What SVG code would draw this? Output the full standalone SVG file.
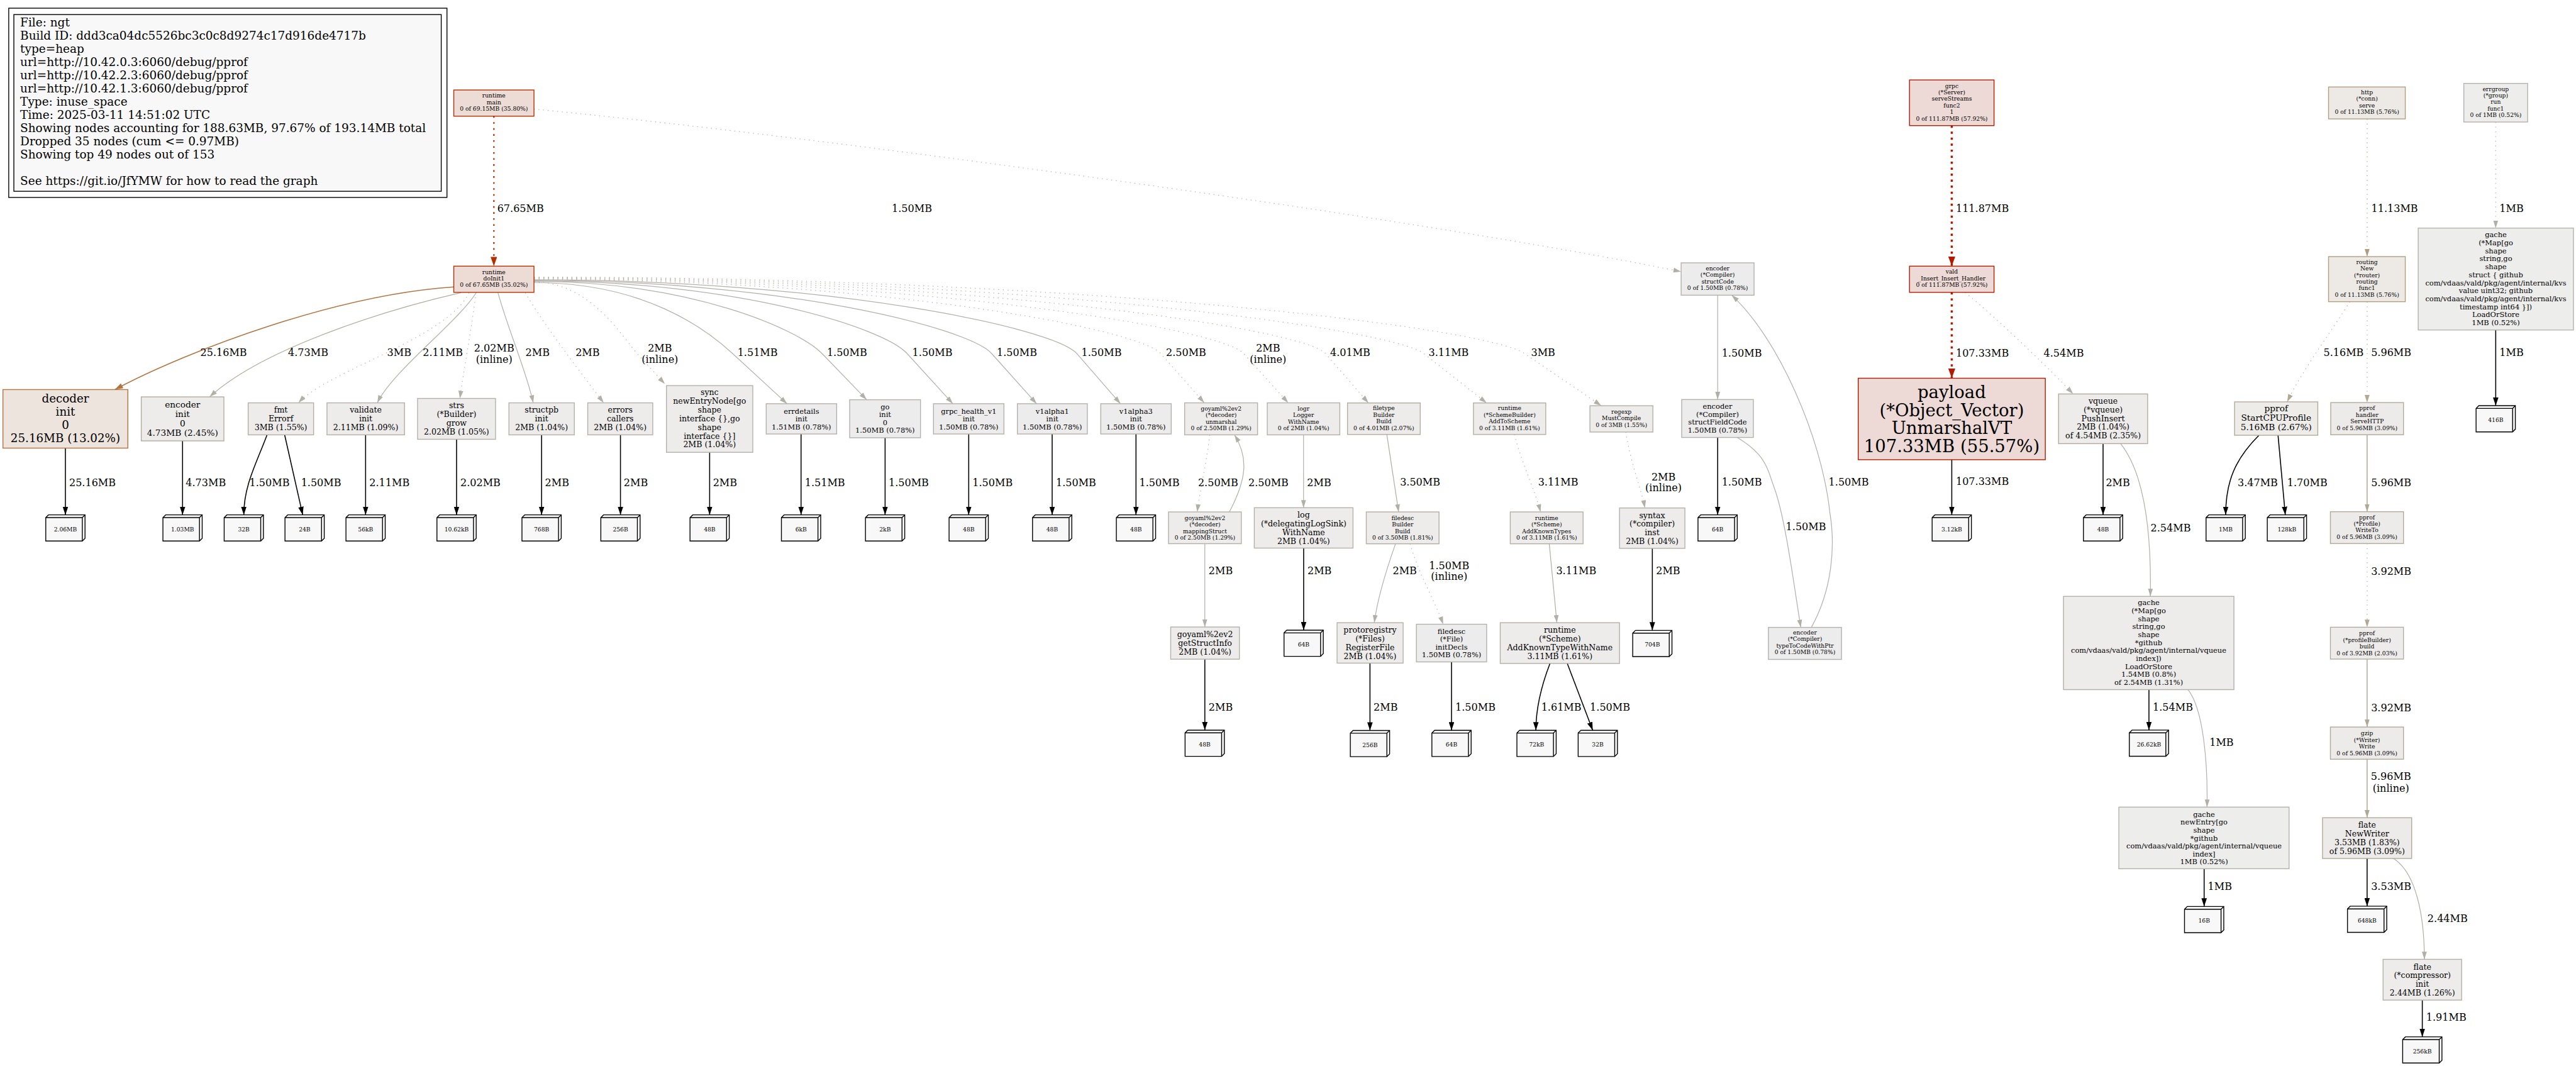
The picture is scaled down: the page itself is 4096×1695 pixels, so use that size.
<svg xmlns="http://www.w3.org/2000/svg" width="4096" height="1695" viewBox="0 0 4096 1695">
<defs>
<style>
text{font-family:"DejaVu Serif","Liberation Serif",serif;fill:#000}
.n text{text-anchor:middle}
.n rect{stroke-width:1.6}
.f8{font-size:10.6px}
.f10{font-size:13.2px}
.f11{font-size:14.5px}
.f12{font-size:15.8px}
.f16{font-size:21.1px}
.f24{font-size:31.7px}
.e path{fill:none;stroke-width:1.4}
.e path.d{stroke-dasharray:1.6 7}
.e path.k{stroke:#000;stroke-width:1.8}
.e text{font-size:18.5px}
.e text.m{text-anchor:middle}
.lf text{font-size:10.6px;text-anchor:middle}
.bxf{fill:#f8f8f8;stroke:#000;stroke-width:1.6}
.bxl{fill:none;stroke:#000;stroke-width:1.6}
</style>
<marker id="ak" viewBox="0 0 15 10" refX="15" refY="5" markerWidth="15" markerHeight="10" markerUnits="userSpaceOnUse" orient="auto"><path d="M0,0L15,5L0,10z" fill="#000"/></marker>
<marker id="ag" viewBox="0 0 14 9" refX="14" refY="4.5" markerWidth="14" markerHeight="9" markerUnits="userSpaceOnUse" orient="auto"><path d="M0,0L14,4.5L0,9z" fill="#b2afa6"/></marker>
<marker id="ar" viewBox="0 0 18 13" refX="18" refY="6.5" markerWidth="18" markerHeight="13" markerUnits="userSpaceOnUse" orient="auto"><path d="M0,0L18,6.5L0,13z" fill="#b21a00"/></marker>
<marker id="ao" viewBox="0 0 17 12" refX="17" refY="6" markerWidth="17" markerHeight="12" markerUnits="userSpaceOnUse" orient="auto"><path d="M0,0L17,6L0,12z" fill="#b23000"/></marker>
<marker id="ab" viewBox="0 0 15 10" refX="15" refY="5" markerWidth="15" markerHeight="10" markerUnits="userSpaceOnUse" orient="auto"><path d="M0,0L15,5L0,10z" fill="#b2733e"/></marker>
<marker id="at" viewBox="0 0 14 9" refX="14" refY="4.5" markerWidth="14" markerHeight="9" markerUnits="userSpaceOnUse" orient="auto"><path d="M0,0L14,4.5L0,9z" fill="#b29c7f"/></marker>
<marker id="at2" viewBox="0 0 14 9" refX="14" refY="4.5" markerWidth="14" markerHeight="9" markerUnits="userSpaceOnUse" orient="auto"><path d="M0,0L14,4.5L0,9z" fill="#b2a896"/></marker>
<g id="bx"><path class="bxf" d="M0,5L5,0L72,0L72,43L67,48L0,48Z"/><path class="bxl" d="M0,5L67,5L67,48M67,5L72,0"/></g>
</defs>
<rect width="4096" height="1695" fill="#fff"/>
<g transform="scale(0.867246)">

<g id="legend">
<rect x="16" y="15" width="803.5" height="347" fill="#fff" stroke="#000" stroke-width="1.6"/>
<rect x="25.4" y="26.7" width="783.6" height="324" fill="#f8f8f8" stroke="#000" stroke-width="1.6"/>
<text font-size="21.3">
<tspan x="37" y="48.5">File: ngt</tspan>
<tspan x="37" y="72.7">Build ID: ddd3ca04dc5526bc3c0c8d9274c17d916de4717b</tspan>
<tspan x="37" y="96.9">type=heap</tspan>
<tspan x="37" y="121.1">url=http://10.42.0.3:6060/debug/pprof</tspan>
<tspan x="37" y="145.3">url=http://10.42.2.3:6060/debug/pprof</tspan>
<tspan x="37" y="169.5">url=http://10.42.1.3:6060/debug/pprof</tspan>
<tspan x="37" y="193.7">Type: inuse_space</tspan>
<tspan x="37" y="217.9">Time: 2025-03-11 14:51:02 UTC</tspan>
<tspan x="37" y="242.1">Showing nodes accounting for 188.63MB, 97.67% of 193.14MB total</tspan>
<tspan x="37" y="266.3">Dropped 35 nodes (cum &lt;= 0.97MB)</tspan>
<tspan x="37" y="290.5">Showing top 49 nodes out of 153</tspan>
<tspan x="37" y="338.9">See https://git.io/JfYMW for how to read the graph</tspan>
</text>
</g>

<g id="edges" class="e">
<g><path d="M905.5,213L905.5,488" stroke="#b23000" style="stroke-width:2.6;stroke-dasharray:3 8" marker-end="url(#ao)"/><text x="911.7" y="389">67.65MB</text></g>
<g><path class="d" d="M979,200C1500,250 2600,400 3082,498" stroke="#b2b0ab" marker-end="url(#ag)"/><text class="m" x="1672" y="389">1.50MB</text></g>
<g><path d="M3578.5,230.3L3578.5,488" stroke="#b21a00" style="stroke-width:4;stroke-dasharray:4 7" marker-end="url(#ar)"/><text x="3586" y="389">111.87MB</text></g>
<g><path d="M3578.5,536L3578.5,693.5" stroke="#b21c00" style="stroke-width:4;stroke-dasharray:4 7" marker-end="url(#ar)"/><text x="3586" y="654">107.33MB</text></g>
<g><path class="d" d="M3603,536C3680,600 3760,680 3801,722" stroke="#b2ab9d" marker-end="url(#ag)"/><text x="3747" y="654">4.54MB</text></g>
<g><path class="k" d="M3578.5,842.8L3578.5,944" marker-end="url(#ak)"/><text x="3586" y="889">107.33MB</text></g>

<g><path d="M832,526C620,540 350,640 210.6,714.3" stroke="#b2733e" style="stroke-width:1.8" marker-end="url(#ab)"/><text class="m" x="410" y="653">25.16MB</text></g>
<g><path d="M845,536.7C700,570 480,640 384.3,727.7" stroke="#b2ab9c" marker-end="url(#ag)"/><text class="m" x="565" y="653">4.73MB</text></g>
<g><path class="d" d="M860,536.7C820,620 600,680 547.3,738.6" stroke="#b2aea4" marker-end="url(#ag)"/><text class="m" x="732" y="653">3MB</text></g>
<g><path d="M873,536.7C840,590 720,680 691.8,738.6" stroke="#b2afa8" marker-end="url(#ag)"/><text class="m" x="812" y="653">2.11MB</text></g>
<g><path class="d" d="M872.7,536.7C865,600 850,680 843.2,730.5" stroke="#b2b0a9" marker-end="url(#ag)"/><text class="m"><tspan x="906" y="644">2.02MB</tspan><tspan x="906" y="665">(inline)</tspan></text></g>
<g><path d="M913,536.7C930,600 965,680 977.7,738.6" stroke="#b2b0a9" marker-end="url(#ag)"/><text class="m" x="985.6" y="653">2MB</text></g>
<g><path class="d" d="M963,536.7C1000,600 1070,690 1106.8,738.6" stroke="#b2b0a9" marker-end="url(#ag)"/><text class="m" x="1077.4" y="653">2MB</text></g>
<g><path class="d" d="M979,517C1083,517 1142.5,620 1168,648S1203.7,687.2 1219,704" stroke="#b2b0a9" marker-end="url(#ag)"/><text class="m"><tspan x="1210" y="644">2MB</tspan><tspan x="1210" y="665">(inline)</tspan></text></g>
<g><path d="M979,518C1179.2,518 1293,601.9 1343,648S1413,712.5 1443,740.2" stroke="#b2b0ab" marker-end="url(#ag)"/><text class="m" x="1389" y="653">1.51MB</text></g>
<g><path d="M979,516C1269.4,516 1466,605.5 1507,648S1564.4,707.4 1589,732.9" stroke="#b2b0ab" marker-end="url(#ag)"/><text class="m" x="1553" y="653">1.50MB</text></g>
<g><path d="M979,515C1355.2,515 1621,601.9 1663,648S1721.8,712.5 1747,740.2" stroke="#b2b0ab" marker-end="url(#ag)"/><text class="m" x="1709.5" y="653">1.50MB</text></g>
<g><path d="M979,514C1440.5,514 1776.7,601.9 1818,648S1875.8,712.5 1900.6,740.2" stroke="#b2b0ab" marker-end="url(#ag)"/><text class="m" x="1864.5" y="653">1.50MB</text></g>
<g><path d="M979,513C1526.3,513 1933.9,601.9 1974,648S2030.2,712.5 2054.3,740.2" stroke="#b2b0ab" marker-end="url(#ag)"/><text class="m" x="2019.6" y="653">1.50MB</text></g>
<g><path class="d" d="M979,512C1611,512 2088,602.7 2128,648S2184,711.4 2208,738.6" stroke="#b2afa6" marker-end="url(#ag)"/><text class="m" x="2174.6" y="653">2.50MB</text></g>
<g><path class="d" d="M979,511C1694.6,511 2239.1,602.7 2280,648S2337.3,711.4 2361.8,738.6" stroke="#b2b0a9" marker-end="url(#ag)"/><text class="m"><tspan x="2325" y="644">2MB</tspan><tspan x="2325" y="665">(inline)</tspan></text></g>
<g><path class="d" d="M979,510C1777,510 2390.5,602.6 2430,648S2485.3,711.6 2509,738.8" stroke="#b2ac9f" marker-end="url(#ag)"/><text class="m" x="2475.6" y="653">4.01MB</text></g>
<g><path class="d" d="M979,509C1876,509 2552,602.6 2610,648S2691,711.6 2725.7,738.8" stroke="#b2aea4" marker-end="url(#ag)"/><text class="m" x="2656" y="653">3.11MB</text></g>
<g><path class="d" d="M979,508C1977.8,508 2724.5,600 2795,648S2893.7,715.1 2936,743.9" stroke="#b2aea4" marker-end="url(#ag)"/><text class="m" x="2829.3" y="653">3MB</text></g>

<g><path class="k" d="M119.9,821.6L119.9,944" marker-end="url(#ak)"/><text x="126.8" y="891.3">25.16MB</text></g>
<g><path class="k" d="M334.7,808.3L334.7,944" marker-end="url(#ak)"/><text x="340.5" y="891.3">4.73MB</text></g>
<g><path class="k" d="M489.6,797.3C470,850 447,890 447,944" marker-end="url(#ak)"/><text x="457.3" y="891.3">1.50MB</text></g>
<g><path class="k" d="M521.9,797.3L555,944" marker-end="url(#ak)"/><text x="551.9" y="891.3">1.50MB</text></g>
<g><path class="k" d="M670.3,797.3L670.3,944" marker-end="url(#ak)"/><text x="677.2" y="891.3">2.11MB</text></g>
<g><path class="k" d="M837.1,805.4L837.1,944" marker-end="url(#ak)"/><text x="844" y="891.3">2.02MB</text></g>
<g><path class="k" d="M993,797.3L993,944" marker-end="url(#ak)"/><text x="999.2" y="891.3">2MB</text></g>
<g><path class="k" d="M1137.6,797.3L1137.6,944" marker-end="url(#ak)"/><text x="1143.7" y="891.3">2MB</text></g>
<g><path class="k" d="M1301.1,829.3L1301.1,944" marker-end="url(#ak)"/><text x="1307.2" y="891.3">2MB</text></g>
<g><path class="k" d="M1468.7,795.7L1468.7,944" marker-end="url(#ak)"/><text x="1475.6" y="891.3">1.51MB</text></g>
<g><path class="k" d="M1622.8,802.6L1622.8,944" marker-end="url(#ak)"/><text x="1629.3" y="891.3">1.50MB</text></g>
<g><path class="k" d="M1776.1,795.7L1776.1,944" marker-end="url(#ak)"/><text x="1783" y="891.3">1.50MB</text></g>
<g><path class="k" d="M1929.1,795.7L1929.1,944" marker-end="url(#ak)"/><text x="1936" y="891.3">1.50MB</text></g>
<g><path class="k" d="M2082.8,795.7L2082.8,944" marker-end="url(#ak)"/><text x="2088.9" y="891.3">1.50MB</text></g>

<g><path class="d" d="M2218,797.3C2212,850 2200,900 2195,938.6" stroke="#b2afa6" marker-end="url(#ag)"/><text x="2196.5" y="891.3">2.50MB</text></g>
<g><path d="M2254,938.6C2285,880 2290,840 2263.4,797.3" stroke="#b2afa6" marker-end="url(#ag)"/><text x="2288.8" y="891.3">2.50MB</text></g>
<g><path d="M2390,797.3L2390,930.9" stroke="#b2b0a9" marker-end="url(#ag)"/><text x="2396.4" y="891.3">2MB</text></g>
<g><path d="M2542.7,796.6L2564.3,938.6" stroke="#b2ada2" marker-end="url(#ag)"/><text x="2566.9" y="890.3">3.50MB</text></g>
<g><path class="d" d="M2776.7,796.6C2790,850 2815,900 2824.5,938.6" stroke="#b2aea4" marker-end="url(#ag)"/><text x="2820" y="890.3">3.11MB</text></g>
<g><path class="d" d="M2980.8,792C2990,850 3010,900 3015.9,931.3" stroke="#b2b0a9" marker-end="url(#ag)"/><text class="m"><tspan x="3050" y="880.8">2MB</tspan><tspan x="3050" y="901">(inline)</tspan></text></g>
<g><path d="M3149.3,541.2L3149.3,732.5" stroke="#b2b0ab" marker-end="url(#ag)"/><text x="3156.7" y="654">1.50MB</text></g>
<g><path class="k" d="M3149.3,802L3149.3,944" marker-end="url(#ak)"/><text x="3156.7" y="890">1.50MB</text></g>
<g><path d="M3185,802C3240,835 3240,860 3255,900C3275,960 3290,1080 3301.7,1150.3" stroke="#b2b0ab" marker-end="url(#ag)"/><text x="3274.3" y="971.7">1.50MB</text></g>
<g><path d="M3321,1150.3C3360,1080 3365,1000 3355,940C3340,800 3260,620 3175,541.2" stroke="#b2b0ab" marker-end="url(#ag)"/><text x="3352.7" y="890">1.50MB</text></g>

<g><path d="M2558.6,997C2540,1050 2525,1100 2519.7,1141.7" stroke="#b2b0a9" marker-end="url(#ag)"/><text x="2553.5" y="1053">2MB</text></g>
<g><path class="d" d="M2585.4,997C2600,1050 2630,1100 2646,1144.5" stroke="#b2b0ab" marker-end="url(#ag)"/><text class="m"><tspan x="2657" y="1043.5">1.50MB</tspan><tspan x="2657" y="1063.2">(inline)</tspan></text></g>
<g><path class="k" d="M2511.8,1215.8L2511.8,1339.3" marker-end="url(#ak)"/><text x="2518.4" y="1302.8">2MB</text></g>
<g><path class="k" d="M2661.3,1213.6L2661.3,1339" marker-end="url(#ak)"/><text x="2668.3" y="1302.8">1.50MB</text></g>
<g><path d="M2840.5,997L2854.5,1141.7" stroke="#b2aea4" marker-end="url(#ag)"/><text x="2853.2" y="1053">3.11MB</text></g>
<g><path class="k" d="M2841.8,1216.4C2825,1260 2816,1300 2816,1339" marker-end="url(#ak)"/><text x="2825.8" y="1302.8">1.61MB</text></g>
<g><path class="k" d="M2873.6,1216.4L2920.2,1339" marker-end="url(#ak)"/><text x="2915.1" y="1302.8">1.50MB</text></g>
<g><path class="k" d="M3029.5,1005.4L3029.5,1155.8" marker-end="url(#ak)"/><text x="3036.3" y="1053">2MB</text></g>
<g><path d="M2209,996.8L2209,1149.6" stroke="#b2b0a9" marker-end="url(#ag)"/><text x="2216" y="1053.2">2MB</text></g>
<g><path class="k" d="M2209,1208.6L2209,1338.7" marker-end="url(#ak)"/><text x="2216" y="1303.2">2MB</text></g>
<g><path class="k" d="M2390.2,1004.9L2390.2,1155.4" marker-end="url(#ak)"/><text x="2397.2" y="1053.2">2MB</text></g>

<g><path class="k" d="M3855.9,813.4L3855.9,944" marker-end="url(#ak)"/><text x="3861" y="891.7">2MB</text></g>
<g><path d="M3888,813.4C3925,860 3945,950 3942.6,1093.4" stroke="#b2afa6" marker-end="url(#ag)"/><text x="3943" y="974">2.54MB</text></g>
<g><path class="k" d="M3940,1264.4L3940,1338.6" marker-end="url(#ak)"/><text x="3947" y="1303">1.54MB</text></g>
<g><path d="M4011.7,1264.4C4040,1300 4048,1400 4046.5,1479.8" stroke="#b2b1ad" marker-end="url(#ag)"/><text x="4051" y="1367.7">1MB</text></g>
<g><path class="k" d="M4041.2,1592.8L4041.2,1662" marker-end="url(#ak)"/><text x="4048" y="1632">1MB</text></g>
<g><path class="k" d="M4141.8,798C4100,840 4080.7,880 4080.7,944" marker-end="url(#ak)"/><text x="4102.6" y="891.7">3.47MB</text></g>
<g><path class="k" d="M4176.7,798L4190,944" marker-end="url(#ak)"/><text x="4193.5" y="891.7">1.70MB</text></g>
<g><path class="d" d="M4340,218L4340,470.5" stroke="#b29c7f" marker-end="url(#at)"/><text x="4347.7" y="388.4">11.13MB</text></g>
<g><path class="d" d="M4308.3,553.1C4280,600 4220,680 4193.5,736.8" stroke="#b2aa9a" marker-end="url(#at2)"/><text x="4260" y="652.7">5.16MB</text></g>
<g><path class="d" d="M4340,553.1L4340,738.1" stroke="#b2a896" marker-end="url(#at2)"/><text x="4347.3" y="652.7">5.96MB</text></g>
<g><path class="d" d="M4575.8,223.7L4575.8,418.2" stroke="#b2b1ad" marker-end="url(#ag)"/><text x="4582.7" y="388.4">1MB</text></g>
<g><path class="k" d="M4575.8,605L4575.8,743.8" marker-end="url(#ak)"/><text x="4582.7" y="653.2">1MB</text></g>
<g><path d="M4340,797.1L4340,938.2" stroke="#b2a896" style="stroke-width:1.8" marker-end="url(#at2)"/><text x="4347.3" y="891.2">5.96MB</text></g>
<g><path class="d" d="M4340,996.5L4340,1150" stroke="#b2aca0" marker-end="url(#at2)"/><text x="4347.3" y="1053.4">3.92MB</text></g>
<g><path d="M4340,1208.4L4340,1333" stroke="#b2aca0" style="stroke-width:1.8" marker-end="url(#at2)"/><text x="4347.3" y="1303.7">3.92MB</text></g>
<g><path d="M4340,1392L4340,1499.3" stroke="#b2a896" style="stroke-width:1.8" marker-end="url(#at2)"/><text class="m"><tspan x="4383.7" y="1430.3">5.96MB</tspan><tspan x="4383.7" y="1451.7">(inline)</tspan></text></g>
<g><path class="k" d="M4340,1574L4340,1661.5" marker-end="url(#ak)"/><text x="4347.3" y="1631.6">3.53MB</text></g>
<g><path d="M4388.3,1574C4430,1600 4445,1680 4445,1758.9" stroke="#b2afa6" marker-end="url(#ag)"/><text x="4450.7" y="1690">2.44MB</text></g>
<g><path class="k" d="M4441.2,1833.6L4441.2,1901" marker-end="url(#ak)"/><text x="4448.3" y="1871">1.91MB</text></g>
</g>

<g id="nodes">
<g id="n-main" class="n"><rect x="832" y="165" width="147" height="48" fill="#eddbd5" stroke="#b22f00"/><text class="f8"><tspan x="905.5" y="178.9">runtime</tspan><tspan x="905.5" dy="12">main</tspan><tspan x="905.5" dy="12">0 of 69.15MB (35.80%)</tspan></text></g>
<g id="n-doinit" class="n"><rect x="832" y="488" width="147" height="48" fill="#eddbd5" stroke="#b23000"/><text class="f8"><tspan x="905.5" y="502.5">runtime</tspan><tspan x="905.5" dy="11.8">doInit1</tspan><tspan x="905.5" dy="11.8">0 of 67.65MB (35.02%)</tspan></text></g>
<g id="n-grpc" class="n"><rect x="3501" y="146.6" width="155" height="83.7" fill="#edd9d5" stroke="#b21a00"/><text class="f8"><tspan x="3578.5" y="161">grpc</tspan><tspan x="3578.5" dy="12">(*Server)</tspan><tspan x="3578.5" dy="12">serveStreams</tspan><tspan x="3578.5" dy="12">func2</tspan><tspan x="3578.5" dy="12">1</tspan><tspan x="3578.5" dy="12">0 of 111.87MB (57.92%)</tspan></text></g>
<g id="n-vald" class="n"><rect x="3501" y="488" width="155" height="48" fill="#edd9d5" stroke="#b21a00"/><text class="f8"><tspan x="3578.5" y="501.8">vald</tspan><tspan x="3578.5" dy="12.2">_Insert_Insert_Handler</tspan><tspan x="3578.5" dy="12.2">0 of 111.87MB (57.92%)</tspan></text></g>
<g id="n-payload" class="n"><rect x="3407" y="693.5" width="343" height="149.3" fill="#edd9d5" stroke="#b21c00"/><text class="f24"><tspan x="3578.5" y="729.9">payload</tspan><tspan x="3578.5" dy="33">(*Object_Vector)</tspan><tspan x="3578.5" dy="33">UnmarshalVT</tspan><tspan x="3578.5" dy="33">107.33MB (55.57%)</tspan></text></g>
<g id="n-decoder" class="n"><rect x="5.4" y="714.3" width="229" height="107.3" fill="#ede4dd" stroke="#b2733e"/><text class="f16"><tspan x="119.9" y="738.1">decoder</tspan><tspan x="119.9" dy="24">init</tspan><tspan x="119.9" dy="24">0</tspan><tspan x="119.9" dy="24">25.16MB (13.02%)</tspan></text></g>
<g id="n-encinit" class="n"><rect x="259" y="727.7" width="151.5" height="80.6" fill="#edecea" stroke="#b2ab9c"/><text class="f12"><tspan x="334.7" y="746.7">encoder</tspan><tspan x="334.7" dy="17.3">init</tspan><tspan x="334.7" dy="17.3">0</tspan><tspan x="334.7" dy="17.3">4.73MB (2.45%)</tspan></text></g>
<g id="n-fmt" class="n"><rect x="455" y="738.6" width="120" height="58.7" fill="#edeceb" stroke="#b2aea4"/><text class="f11"><tspan x="515" y="756.2">fmt</tspan><tspan x="515" dy="16">Errorf</tspan><tspan x="515" dy="16">3MB (1.55%)</tspan></text></g>
<g id="n-validate" class="n"><rect x="599.5" y="738.6" width="142.2" height="58.7" fill="#edeceb" stroke="#b2afa8"/><text class="f11"><tspan x="670.6" y="756.2">validate</tspan><tspan x="670.6" dy="16">init</tspan><tspan x="670.6" dy="16">2.11MB (1.09%)</tspan></text></g>
<g id="n-strs" class="n"><rect x="765.6" y="730.5" width="142.9" height="74.9" fill="#edeceb" stroke="#b2b0a9"/><text class="f11"><tspan x="837" y="748.2">strs</tspan><tspan x="837" dy="16">(*Builder)</tspan><tspan x="837" dy="16">grow</tspan><tspan x="837" dy="16">2.02MB (1.05%)</tspan></text></g>
<g id="n-structpb" class="n"><rect x="933.1" y="738.6" width="119.9" height="58.7" fill="#edeceb" stroke="#b2b0a9"/><text class="f11"><tspan x="993" y="756.2">structpb</tspan><tspan x="993" dy="16">init</tspan><tspan x="993" dy="16">2MB (1.04%)</tspan></text></g>
<g id="n-errors" class="n"><rect x="1077.6" y="738.6" width="119.2" height="58.7" fill="#edeceb" stroke="#b2b0a9"/><text class="f11"><tspan x="1137.2" y="756.2">errors</tspan><tspan x="1137.2" dy="16">callers</tspan><tspan x="1137.2" dy="16">2MB (1.04%)</tspan></text></g>
<g id="n-sync" class="n"><rect x="1221.9" y="707" width="158.3" height="122.3" fill="#edeceb" stroke="#b2b0a9"/><text class="f11"><tspan x="1301" y="724.4">sync</tspan><tspan x="1301" dy="16">newEntryNode[go</tspan><tspan x="1301" dy="16">shape</tspan><tspan x="1301" dy="16">interface {},go</tspan><tspan x="1301" dy="16">shape</tspan><tspan x="1301" dy="16">interface {}]</tspan><tspan x="1301" dy="16">2MB (1.04%)</tspan></text></g>
<g id="n-errdetails" class="n"><rect x="1404.8" y="740.2" width="129.2" height="55.5" fill="#edecec" stroke="#b2b0ab"/><text class="f10"><tspan x="1469.4" y="758.3">errdetails</tspan><tspan x="1469.4" dy="14.5">init</tspan><tspan x="1469.4" dy="14.5">1.51MB (0.78%)</tspan></text></g>
<g id="n-goinit" class="n"><rect x="1557.8" y="732.9" width="129.9" height="69.7" fill="#edecec" stroke="#b2b0ab"/><text class="f10"><tspan x="1622.7" y="750.3">go</tspan><tspan x="1622.7" dy="14.5">init</tspan><tspan x="1622.7" dy="14.5">0</tspan><tspan x="1622.7" dy="14.5">1.50MB (0.78%)</tspan></text></g>
<g id="n-grpchealth" class="n"><rect x="1711.5" y="740.2" width="129.2" height="55.5" fill="#edecec" stroke="#b2b0ab"/><text class="f10"><tspan x="1776.1" y="758.3">grpc_health_v1</tspan><tspan x="1776.1" dy="14.5">init</tspan><tspan x="1776.1" dy="14.5">1.50MB (0.78%)</tspan></text></g>
<g id="n-v1alpha1" class="n"><rect x="1865.3" y="740.2" width="128.3" height="55.5" fill="#edecec" stroke="#b2b0ab"/><text class="f10"><tspan x="1929.4" y="758.3">v1alpha1</tspan><tspan x="1929.4" dy="14.5">init</tspan><tspan x="1929.4" dy="14.5">1.50MB (0.78%)</tspan></text></g>
<g id="n-v1alpha3" class="n"><rect x="2018.2" y="740.2" width="129.2" height="55.5" fill="#edecec" stroke="#b2b0ab"/><text class="f10"><tspan x="2082.8" y="758.3">v1alpha3</tspan><tspan x="2082.8" dy="14.5">init</tspan><tspan x="2082.8" dy="14.5">1.50MB (0.78%)</tspan></text></g>
<g id="n-unmarshal" class="n"><rect x="2172" y="738.6" width="133.7" height="58.7" fill="#edeceb" stroke="#b2afa6"/><text class="f8"><tspan x="2238.9" y="752.9">goyaml%2ev2</tspan><tspan x="2238.9" dy="12">(*decoder)</tspan><tspan x="2238.9" dy="12">unmarshal</tspan><tspan x="2238.9" dy="12">0 of 2.50MB (1.29%)</tspan></text></g>
<g id="n-logr" class="n"><rect x="2323.5" y="738.6" width="133" height="58.7" fill="#edeceb" stroke="#b2b0a9"/><text class="f8"><tspan x="2390" y="752.9">logr</tspan><tspan x="2390" dy="12">Logger</tspan><tspan x="2390" dy="12">WithName</tspan><tspan x="2390" dy="12">0 of 2MB (1.04%)</tspan></text></g>
<g id="n-filetype" class="n"><rect x="2470.6" y="738.8" width="133.3" height="57.8" fill="#edecea" stroke="#b2ac9f"/><text class="f8"><tspan x="2537.2" y="752.2">filetype</tspan><tspan x="2537.2" dy="12">Builder</tspan><tspan x="2537.2" dy="12">Build</tspan><tspan x="2537.2" dy="12">0 of 4.01MB (2.07%)</tspan></text></g>
<g id="n-schemebuilder" class="n"><rect x="2701.5" y="738.8" width="132.6" height="57.8" fill="#edeceb" stroke="#b2aea4"/><text class="f8"><tspan x="2767.8" y="752.2">runtime</tspan><tspan x="2767.8" dy="12">(*SchemeBuilder)</tspan><tspan x="2767.8" dy="12">AddToScheme</tspan><tspan x="2767.8" dy="12">0 of 3.11MB (1.61%)</tspan></text></g>
<g id="n-regexp" class="n"><rect x="2915.1" y="743.9" width="115.4" height="48.2" fill="#edeceb" stroke="#b2aea4"/><text class="f8"><tspan x="2972.8" y="758.9">regexp</tspan><tspan x="2972.8" dy="11.8">MustCompile</tspan><tspan x="2972.8" dy="11.8">0 of 3MB (1.55%)</tspan></text></g>
<g id="n-structcode" class="n"><rect x="3082.3" y="481.9" width="133.7" height="59.3" fill="#edecec" stroke="#b2b0ab"/><text class="f8"><tspan x="3149.2" y="495.9">encoder</tspan><tspan x="3149.2" dy="11.9">(*Compiler)</tspan><tspan x="3149.2" dy="11.9">structCode</tspan><tspan x="3149.2" dy="11.9">0 of 1.50MB (0.78%)</tspan></text></g>
<g id="n-structfieldcode" class="n"><rect x="3083.3" y="732.5" width="131.4" height="69.5" fill="#edecec" stroke="#b2b0ab"/><text class="f10"><tspan x="3149" y="749.8">encoder</tspan><tspan x="3149" dy="14.5">(*Compiler)</tspan><tspan x="3149" dy="14.5">structFieldCode</tspan><tspan x="3149" dy="14.5">1.50MB (0.78%)</tspan></text></g>
<g id="n-typetocode" class="n"><rect x="3242.3" y="1150.3" width="134" height="58.7" fill="#edecec" stroke="#b2b0ab"/><text class="f8"><tspan x="3309.3" y="1163.6">encoder</tspan><tspan x="3309.3" dy="11.8">(*Compiler)</tspan><tspan x="3309.3" dy="11.8">typeToCodeWithPtr</tspan><tspan x="3309.3" dy="11.8">0 of 1.50MB (0.78%)</tspan></text></g>
<g id="n-vqueue" class="n"><rect x="3774.3" y="722.3" width="163.3" height="91.1" fill="#edecea" stroke="#b2ab9d"/><text class="f11"><tspan x="3856" y="740">vqueue</tspan><tspan x="3856" dy="16">(*vqueue)</tspan><tspan x="3856" dy="16">PushInsert</tspan><tspan x="3856" dy="16">2MB (1.04%)</tspan><tspan x="3856" dy="16">of 4.54MB (2.35%)</tspan></text></g>
<g id="n-gache-los" class="n"><rect x="3783.3" y="1093.4" width="312.5" height="171" fill="#edeceb" stroke="#b2afa6"/><text class="f10"><tspan x="3939.5" y="1109.5">gache</tspan><tspan x="3939.5" dy="14.6">(*Map[go</tspan><tspan x="3939.5" dy="14.6">shape</tspan><tspan x="3939.5" dy="14.6">string,go</tspan><tspan x="3939.5" dy="14.6">shape</tspan><tspan x="3939.5" dy="14.6">*github</tspan><tspan x="3939.5" dy="14.6">com/vdaas/vald/pkg/agent/internal/vqueue</tspan><tspan x="3939.5" dy="14.6">index])</tspan><tspan x="3939.5" dy="14.6">LoadOrStore</tspan><tspan x="3939.5" dy="14.6">1.54MB (0.8%)</tspan><tspan x="3939.5" dy="14.6">of 2.54MB (1.31%)</tspan></text></g>
<g id="n-gache-newentry" class="n"><rect x="3884.8" y="1479.8" width="312.1" height="113" fill="#ededec" stroke="#b2b1ad"/><text class="f10"><tspan x="4041" y="1497.3">gache</tspan><tspan x="4041" dy="14.6">newEntry[go</tspan><tspan x="4041" dy="14.6">shape</tspan><tspan x="4041" dy="14.6">*github</tspan><tspan x="4041" dy="14.6">com/vdaas/vald/pkg/agent/internal/vqueue</tspan><tspan x="4041" dy="14.6">index]</tspan><tspan x="4041" dy="14.6">1MB (0.52%)</tspan></text></g>
<g id="n-http" class="n"><rect x="4269.3" y="159.5" width="140.7" height="58.5" fill="#edeae6" stroke="#b29c7f"/><text class="f8"><tspan x="4339.7" y="172.8">http</tspan><tspan x="4339.7" dy="12">(*conn)</tspan><tspan x="4339.7" dy="12">serve</tspan><tspan x="4339.7" dy="12">0 of 11.13MB (5.76%)</tspan></text></g>
<g id="n-routing" class="n"><rect x="4269.3" y="470.5" width="140.7" height="82.6" fill="#edeae6" stroke="#b29c7f"/><text class="f8"><tspan x="4339.7" y="484.2">routing</tspan><tspan x="4339.7" dy="11.9">New</tspan><tspan x="4339.7" dy="11.9">(*router)</tspan><tspan x="4339.7" dy="11.9">routing</tspan><tspan x="4339.7" dy="11.9">func1</tspan><tspan x="4339.7" dy="11.9">0 of 11.13MB (5.76%)</tspan></text></g>
<g id="n-errgroup" class="n"><rect x="4517.3" y="152.9" width="117" height="70.8" fill="#ededec" stroke="#b2b1ad"/><text class="f8"><tspan x="4575.8" y="167.1">errgroup</tspan><tspan x="4575.8" dy="11.8">(*group)</tspan><tspan x="4575.8" dy="11.8">run</tspan><tspan x="4575.8" dy="11.8">func1</tspan><tspan x="4575.8" dy="11.8">0 of 1MB (0.52%)</tspan></text></g>
<g id="n-gache-kvs" class="n"><rect x="4433.7" y="418.2" width="284.6" height="186.8" fill="#ededec" stroke="#b2b1ad"/><text class="f10"><tspan x="4576" y="435.2">gache</tspan><tspan x="4576" dy="14.63">(*Map[go</tspan><tspan x="4576" dy="14.63">shape</tspan><tspan x="4576" dy="14.63">string,go</tspan><tspan x="4576" dy="14.63">shape</tspan><tspan x="4576" dy="14.63">struct { github</tspan><tspan x="4576" dy="14.63">com/vdaas/vald/pkg/agent/internal/kvs</tspan><tspan x="4576" dy="14.63">value uint32; github</tspan><tspan x="4576" dy="14.63">com/vdaas/vald/pkg/agent/internal/kvs</tspan><tspan x="4576" dy="14.63">timestamp int64 }])</tspan><tspan x="4576" dy="14.63">LoadOrStore</tspan><tspan x="4576" dy="14.63">1MB (0.52%)</tspan></text></g>
<g id="n-startcpu" class="n"><rect x="4097" y="736.8" width="152.6" height="61.2" fill="#edece9" stroke="#b2aa9a"/><text class="f12"><tspan x="4173.3" y="754.6">pprof</tspan><tspan x="4173.3" dy="17">StartCPUProfile</tspan><tspan x="4173.3" dy="17">5.16MB (2.67%)</tspan></text></g>
<g id="n-handler" class="n"><rect x="4273.3" y="738.1" width="133.4" height="59" fill="#edebe9" stroke="#b2a896"/><text class="f8"><tspan x="4340" y="752.3">pprof</tspan><tspan x="4340" dy="12">handler</tspan><tspan x="4340" dy="12">ServeHTTP</tspan><tspan x="4340" dy="12">0 of 5.96MB (3.09%)</tspan></text></g>
<g id="n-writeto" class="n"><rect x="4272.7" y="938.2" width="134" height="58.3" fill="#edebe9" stroke="#b2a896"/><text class="f8"><tspan x="4339.7" y="952">pprof</tspan><tspan x="4339.7" dy="12">(*Profile)</tspan><tspan x="4339.7" dy="12">WriteTo</tspan><tspan x="4339.7" dy="12">0 of 5.96MB (3.09%)</tspan></text></g>
<g id="n-build" class="n"><rect x="4272.7" y="1150" width="134" height="58.4" fill="#edecea" stroke="#b2aca0"/><text class="f8"><tspan x="4339.7" y="1165">pprof</tspan><tspan x="4339.7" dy="12">(*profileBuilder)</tspan><tspan x="4339.7" dy="12">build</tspan><tspan x="4339.7" dy="12">0 of 3.92MB (2.03%)</tspan></text></g>
<g id="n-gzip" class="n"><rect x="4272.7" y="1333" width="134" height="59" fill="#edebe9" stroke="#b2a896"/><text class="f8"><tspan x="4339.7" y="1348.3">gzip</tspan><tspan x="4339.7" dy="12">(*Writer)</tspan><tspan x="4339.7" dy="12">Write</tspan><tspan x="4339.7" dy="12">0 of 5.96MB (3.09%)</tspan></text></g>
<g id="n-newwriter" class="n"><rect x="4258.3" y="1499.3" width="163.4" height="74.7" fill="#edebe9" stroke="#b2a896"/><text class="f11"><tspan x="4340" y="1517.9">flate</tspan><tspan x="4340" dy="16">NewWriter</tspan><tspan x="4340" dy="16">3.53MB (1.83%)</tspan><tspan x="4340" dy="16">of 5.96MB (3.09%)</tspan></text></g>
<g id="n-compressor" class="n"><rect x="4369.3" y="1758.9" width="144" height="74.7" fill="#edeceb" stroke="#b2afa6"/><text class="f11"><tspan x="4441.3" y="1777.5">flate</tspan><tspan x="4441.3" dy="16">(*compressor)</tspan><tspan x="4441.3" dy="16">init</tspan><tspan x="4441.3" dy="16">2.44MB (1.26%)</tspan></text></g>
<g id="n-mappingstruct" class="n"><rect x="2142.4" y="938.6" width="133.5" height="58.2" fill="#edeceb" stroke="#b2afa6"/><text class="f8"><tspan x="2209.2" y="953.5">goyaml%2ev2</tspan><tspan x="2209.2" dy="12">(*decoder)</tspan><tspan x="2209.2" dy="12">mappingStruct</tspan><tspan x="2209.2" dy="12">0 of 2.50MB (1.29%)</tspan></text></g>
<g id="n-log" class="n"><rect x="2299.7" y="930.9" width="181" height="74" fill="#edeceb" stroke="#b2b0a9"/><text class="f11"><tspan x="2390.2" y="949.1">log</tspan><tspan x="2390.2" dy="16">(*delegatingLogSink)</tspan><tspan x="2390.2" dy="16">WithName</tspan><tspan x="2390.2" dy="16">2MB (1.04%)</tspan></text></g>
<g id="n-filedesc-build" class="n"><rect x="2505" y="938.6" width="133.4" height="58.4" fill="#edecea" stroke="#b2ada2"/><text class="f8"><tspan x="2571.7" y="953.6">filedesc</tspan><tspan x="2571.7" dy="12">Builder</tspan><tspan x="2571.7" dy="12">Build</tspan><tspan x="2571.7" dy="12">0 of 3.50MB (1.81%)</tspan></text></g>
<g id="n-addknowntypes" class="n"><rect x="2769" y="938.6" width="133.5" height="58.4" fill="#edeceb" stroke="#b2aea4"/><text class="f8"><tspan x="2835.7" y="953.6">runtime</tspan><tspan x="2835.7" dy="12">(*Scheme)</tspan><tspan x="2835.7" dy="12">AddKnownTypes</tspan><tspan x="2835.7" dy="12">0 of 3.11MB (1.61%)</tspan></text></g>
<g id="n-syntax" class="n"><rect x="2969.3" y="931.3" width="119.9" height="74.1" fill="#edeceb" stroke="#b2b0a9"/><text class="f11"><tspan x="3029.2" y="949.6">syntax</tspan><tspan x="3029.2" dy="16">(*compiler)</tspan><tspan x="3029.2" dy="16">inst</tspan><tspan x="3029.2" dy="16">2MB (1.04%)</tspan></text></g>
<g id="n-getstructinfo" class="n"><rect x="2146.4" y="1149.6" width="126" height="59" fill="#edeceb" stroke="#b2b0a9"/><text class="f11"><tspan x="2209.4" y="1168.3">goyaml%2ev2</tspan><tspan x="2209.4" dy="16">getStructInfo</tspan><tspan x="2209.4" dy="16">2MB (1.04%)</tspan></text></g>
<g id="n-protoregistry" class="n"><rect x="2451.5" y="1141.7" width="121.1" height="74.1" fill="#edeceb" stroke="#b2b0a9"/><text class="f11"><tspan x="2512" y="1160">protoregistry</tspan><tspan x="2512" dy="16">(*Files)</tspan><tspan x="2512" dy="16">RegisterFile</tspan><tspan x="2512" dy="16">2MB (1.04%)</tspan></text></g>
<g id="n-initdecls" class="n"><rect x="2596.9" y="1144.5" width="128.8" height="69.1" fill="#edecec" stroke="#b2b0ab"/><text class="f10"><tspan x="2661.3" y="1162">filedesc</tspan><tspan x="2661.3" dy="14.5">(*File)</tspan><tspan x="2661.3" dy="14.5">initDecls</tspan><tspan x="2661.3" dy="14.5">1.50MB (0.78%)</tspan></text></g>
<g id="n-addknowntypewithname" class="n"><rect x="2750.6" y="1141.7" width="218.7" height="74.7" fill="#edeceb" stroke="#b2aea4"/><text class="f11"><tspan x="2860" y="1160.2">runtime</tspan><tspan x="2860" dy="16">(*Scheme)</tspan><tspan x="2860" dy="16">AddKnownTypeWithName</tspan><tspan x="2860" dy="16">3.11MB (1.61%)</tspan></text></g>
</g>

<g id="leaves" class="lf">
<g id="l1"><use href="#bx" x="83.9" y="944"/><text x="119.9" y="974">2.06MB</text></g>
<g id="l2"><use href="#bx" x="298.7" y="944"/><text x="334.7" y="974">1.03MB</text></g>
<g id="l3"><use href="#bx" x="411" y="944"/><text x="447" y="974">32B</text></g>
<g id="l4"><use href="#bx" x="522.5" y="944"/><text x="558.5" y="974">24B</text></g>
<g id="l5"><use href="#bx" x="634.3" y="944"/><text x="670.3" y="974">56kB</text></g>
<g id="l6"><use href="#bx" x="801.1" y="944"/><text x="837.1" y="974">10.62kB</text></g>
<g id="l7"><use href="#bx" x="957" y="944"/><text x="993" y="974">768B</text></g>
<g id="l8"><use href="#bx" x="1101.6" y="944"/><text x="1137.6" y="974">256B</text></g>
<g id="l9"><use href="#bx" x="1265.1" y="944"/><text x="1301.1" y="974">48B</text></g>
<g id="l10"><use href="#bx" x="1432.7" y="944"/><text x="1468.7" y="974">6kB</text></g>
<g id="l11"><use href="#bx" x="1586.8" y="944"/><text x="1622.8" y="974">2kB</text></g>
<g id="l12"><use href="#bx" x="1740.1" y="944"/><text x="1776.1" y="974">48B</text></g>
<g id="l13"><use href="#bx" x="1893.1" y="944"/><text x="1929.1" y="974">48B</text></g>
<g id="l14"><use href="#bx" x="2046.8" y="944"/><text x="2082.8" y="974">48B</text></g>
<g id="l15"><use href="#bx" x="2172.8" y="1338.7"/><text x="2208.8" y="1368.7">48B</text></g>
<g id="l16"><use href="#bx" x="2354.2" y="1155.4"/><text x="2390.2" y="1185.4">64B</text></g>
<g id="l17"><use href="#bx" x="2475.8" y="1339.3"/><text x="2511.8" y="1369.3">256B</text></g>
<g id="l18"><use href="#bx" x="2625.3" y="1339"/><text x="2661.3" y="1369">64B</text></g>
<g id="l19"><use href="#bx" x="2781.2" y="1339"/><text x="2817.2" y="1369">72kB</text></g>
<g id="l20"><use href="#bx" x="2893.5" y="1339"/><text x="2929.5" y="1369">32B</text></g>
<g id="l21"><use href="#bx" x="2993.5" y="1155.8"/><text x="3029.5" y="1185.8">704B</text></g>
<g id="l22"><use href="#bx" x="3113.2" y="944"/><text x="3149.2" y="974">64B</text></g>
<g id="l23"><use href="#bx" x="3542.5" y="944"/><text x="3578.5" y="974">3.12kB</text></g>
<g id="l24"><use href="#bx" x="3819.9" y="944"/><text x="3855.9" y="974">48B</text></g>
<g id="l25"><use href="#bx" x="3904" y="1338.6"/><text x="3940" y="1368.6">26.62kB</text></g>
<g id="l26"><use href="#bx" x="4005.2" y="1662"/><text x="4041.2" y="1692">16B</text></g>
<g id="l27"><use href="#bx" x="4044.7" y="944"/><text x="4080.7" y="974">1MB</text></g>
<g id="l28"><use href="#bx" x="4157" y="944"/><text x="4193" y="974">128kB</text></g>
<g id="l29"><use href="#bx" x="4539.8" y="743.8"/><text x="4575.8" y="773.8">416B</text></g>
<g id="l30"><use href="#bx" x="4304" y="1661.5"/><text x="4340" y="1691.5">648kB</text></g>
<g id="l31"><use href="#bx" x="4405.2" y="1901"/><text x="4441.2" y="1931">256kB</text></g>
</g>

</g>
</svg>
